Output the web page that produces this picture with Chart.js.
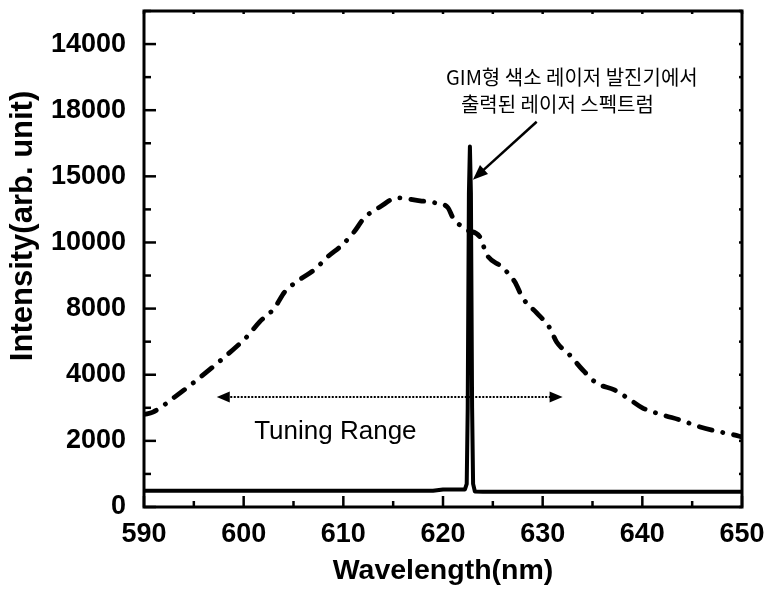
<!DOCTYPE html>
<html><head><meta charset="utf-8">
<script src="https://cdn.jsdelivr.net/npm/chart.js@4/dist/chart.umd.min.js"></script>
<style>html,body{margin:0;padding:0;background:#fff}#wrap{width:768px;height:592px;position:relative}</style>
</head><body><div id="wrap"><canvas id="c"></canvas></div>
<script>
// ---- data ----
const broadWavelengths = [590.0, 590.9, 593.1, 595.3, 598.9, 600.3, 601.6, 603.1, 604.1, 605.6, 607.2, 608.4, 609.9, 611.0, 612.1, 613.7, 615.4, 617.7, 619.2, 620.5, 621.0, 622.4, 623.7, 624.4, 625.9, 627.2, 628.0, 629.4, 630.7, 631.4, 632.7, 634.0, 635.4, 637.2, 638.5, 640.0, 642.1, 643.8, 645.8, 647.8, 649.2, 650.0];
const broadIntensity   = [2800, 2870, 3330, 3840, 4750, 5140, 5600, 6020, 6500, 6870, 7200, 7560, 7930, 8290, 8740, 9080, 9350, 9260, 9200, 9050, 8750, 8380, 8170, 7630, 7260, 6810, 6320, 5870, 5420, 4990, 4600, 4150, 3750, 3540, 3300, 3000, 2780, 2630, 2420, 2270, 2180, 2120];
const laserWavelengths = [590.0, 619.0, 620.0, 622.2, 622.38, 622.48, 622.6, 622.7, 622.8, 622.92, 623.02, 623.2, 624.0, 650.0];
const laserIntensity   = [490, 490, 530, 530, 700, 3000, 9500, 10900, 9500, 3000, 700, 470, 460, 460];
const xTickValues = [590, 600, 610, 620, 630, 640, 650];
const xTickLabels = ["590", "600", "610", "620", "630", "640", "650"];
const yTickValues = [0, 2000, 4000, 6000, 8000, 10000, 12000, 14000];
const yTickLabels = ["0", "2000", "4000", "8000", "10000", "15000", "18000", "14000"];
const xTitle = "Wavelength(nm)";
const yTitle = "Intensity(arb. unit)";
const noteLine1 = "GIM형 색소 레이저 발진기에서";
const noteLine2 = "출력된 레이저 스펙트럼";
const rangeLabel = "Tuning Range";

// annotation anchor points (data coordinates)
const noteLine1At = [620.3, 12980];
const noteLine2At = [621.8, 12165];
const noteArrowFrom = [629.4, 11650];
const noteArrowTo = [623.0, 9900];
const rangeFrom = [597.3, 3330];
const rangeTo = [632.0, 3330];
const rangeLabelAt = [609.2, 2280];
const yTitleAtValue = 8500;   // vertical centre of the y-axis title, in data units

const toPts = (xs, ys) => xs.map((v, i) => ({x: v, y: ys[i]}));
const FAMILY = '"Liberation Sans", Arial, sans-serif';

function arrowHead(ctx, x1, y1, x2, y2, len, half) {
  const a = Math.atan2(y2 - y1, x2 - x1);
  ctx.beginPath();
  ctx.moveTo(x2, y2);
  ctx.lineTo(x2 - len * Math.cos(a) + half * Math.sin(a), y2 - len * Math.sin(a) - half * Math.cos(a));
  ctx.lineTo(x2 - len * Math.cos(a) - half * Math.sin(a), y2 - len * Math.sin(a) + half * Math.cos(a));
  ctx.closePath();
  ctx.fill();
}

const framePlugin = {
  id: 'frame',
  afterDraw(chart) {
    const {ctx, chartArea: a, scales: {x, y}} = chart;
    ctx.save();
    ctx.strokeStyle = '#000'; ctx.fillStyle = '#000';
    ctx.lineWidth = 3;
    ctx.strokeRect(a.left, a.top, a.right - a.left, a.bottom - a.top);
    ctx.lineWidth = 2.5;
    const seg = (x1, y1, x2, y2) => { ctx.beginPath(); ctx.moveTo(x1, y1); ctx.lineTo(x2, y2); ctx.stroke(); };
    for (let v = x.min; v <= x.max + 1e-9; v += 5) {
      const px = x.getPixelForValue(v);
      const major = Math.abs(v % 10) < 1e-9;
      seg(px, a.bottom, px, a.bottom - (major ? 11 : 6));
      seg(px, a.top, px, a.top + 3);
    }
    for (let v = y.min; v <= y.max + 1e-9; v += 1000) {
      const py = y.getPixelForValue(v);
      const major = v % 2000 === 0;
      seg(a.left, py, a.left + (major ? 12 : 7), py);
      seg(a.right, py, a.right - 3, py);
    }
    // y-axis title
    ctx.save();
    ctx.translate(23, y.getPixelForValue(yTitleAtValue));
    ctx.rotate(-Math.PI / 2);
    ctx.font = 'bold 31px ' + FAMILY;
    ctx.textAlign = 'center'; ctx.textBaseline = 'middle';
    ctx.fillText(yTitle, 0, 0);
    ctx.restore();
    // annotation text
    ctx.font = '20px "Noto Sans CJK KR", sans-serif';
    ctx.textAlign = 'left'; ctx.textBaseline = 'middle';
    ctx.fillText(noteLine1, x.getPixelForValue(noteLine1At[0]), y.getPixelForValue(noteLine1At[1]));
    ctx.fillText(noteLine2, x.getPixelForValue(noteLine2At[0]), y.getPixelForValue(noteLine2At[1]));
    // note arrow
    const fx = x.getPixelForValue(noteArrowFrom[0]), fy = y.getPixelForValue(noteArrowFrom[1]);
    const tx = x.getPixelForValue(noteArrowTo[0]), ty = y.getPixelForValue(noteArrowTo[1]);
    ctx.lineWidth = 2.5;
    const ang = Math.atan2(ty - fy, tx - fx);
    seg(fx, fy, tx - 10 * Math.cos(ang), ty - 10 * Math.sin(ang));
    arrowHead(ctx, fx, fy, tx, ty, 15, 6);
    // tuning range arrow
    const rx1 = x.getPixelForValue(rangeFrom[0]), ry = y.getPixelForValue(rangeFrom[1]);
    const rx2 = x.getPixelForValue(rangeTo[0]);
    ctx.lineWidth = 2;
    ctx.setLineDash([2, 1.5]);
    seg(rx1 + 10, ry, rx2 - 10, ry);
    ctx.setLineDash([]);
    arrowHead(ctx, rx2, ry, rx1, ry, 13, 5.5);
    arrowHead(ctx, rx1, ry, rx2, ry, 13, 5.5);
    ctx.font = '26px ' + FAMILY;
    ctx.textAlign = 'center';
    ctx.fillText(rangeLabel, x.getPixelForValue(rangeLabelAt[0]), y.getPixelForValue(rangeLabelAt[1]));
    ctx.restore();
  }
};

new Chart(document.getElementById('c'), {
  type: 'line',
  data: {
    datasets: [
      {
        label: 'laser', data: toPts(laserWavelengths, laserIntensity),
        borderColor: '#000', borderWidth: 4, pointRadius: 0, tension: 0, order: 0,
        borderJoinStyle: 'round'
      },
      {
        label: 'broad', data: toPts(broadWavelengths, broadIntensity),
        borderColor: '#000', borderWidth: 4.8, pointRadius: 0,
        cubicInterpolationMode: 'monotone', order: 1,
        borderDash: [13, 11, 0.1, 11], borderCapStyle: 'round'
      }
    ]
  },
  options: {
    responsive: true, maintainAspectRatio: false, animation: false, devicePixelRatio: 1,
    layout: {padding: {top: 11, right: 26, left: 0, bottom: 0}},
    plugins: {legend: {display: false}, tooltip: {enabled: false}},
    scales: {
      x: {
        type: 'linear', min: 590, max: 650,
        grid: {display: true, drawOnChartArea: false, drawTicks: false},
        border: {display: false},
        afterBuildTicks: s => { s.ticks = xTickValues.map(v => ({value: v})); },
        afterFit: s => { s.height = 85; s.paddingLeft = 0; s.paddingRight = 0; },
        ticks: {
          color: '#000', padding: 11, font: {family: FAMILY, size: 27, weight: 'bold'},
          callback: (v) => xTickLabels[xTickValues.indexOf(v)], maxRotation: 0, autoSkip: false
        },
        title: {display: true, text: xTitle, color: '#000', padding: {top: 0, bottom: 4},
          font: {family: FAMILY, size: 28.5, weight: 'bold'}}
      },
      y: {
        type: 'linear', min: 0, max: 15000,
        grid: {display: true, drawOnChartArea: false, drawTicks: false},
        border: {display: false},
        afterBuildTicks: s => { s.ticks = yTickValues.map(v => ({value: v})); },
        afterFit: s => { s.width = 144; s.paddingTop = 0; s.paddingBottom = 0; },
        ticks: {
          color: '#000', padding: 18, font: {family: FAMILY, size: 27, weight: 'bold'},
          callback: (v) => yTickLabels[yTickValues.indexOf(v)], autoSkip: false
        },
        title: {display: false}
      }
    }
  },
  plugins: [framePlugin]
});
</script>
</body></html>
